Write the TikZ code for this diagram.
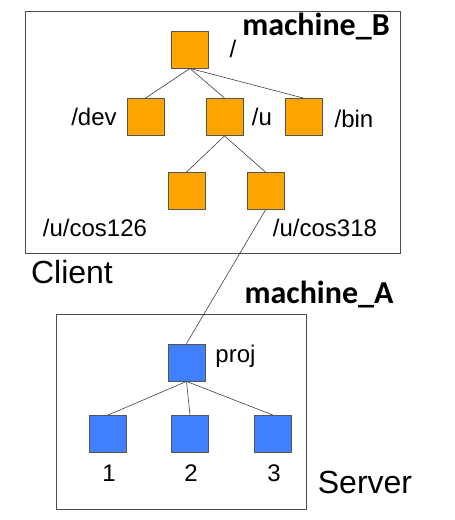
\documentclass[tikz,border=0pt]{standalone}
\usepackage{fontspec}
\setmainfont{Liberation Sans}
\newfontfamily\calib{Carlito}
\definecolor{orfill}{HTML}{FFA500}
\definecolor{blfill}{HTML}{4080FF}
\definecolor{edge}{HTML}{555555}
\begin{document}
\begin{tikzpicture}[x=1pt,y=-1pt,
  obox/.style={draw=edge,line width=0.8pt,fill=orfill,minimum size=37pt,inner sep=0pt},
  bbox/.style={draw=edge,line width=0.8pt,fill=blfill,minimum size=37pt,inner sep=0pt},
  lnk/.style={draw=black!75,line width=0.6pt},
  frame/.style={draw=black!70,line width=0.8pt},
  lbl/.style={inner sep=0pt,font=\fontsize{24}{28}\selectfont},
  big/.style={inner sep=0pt,font=\fontsize{32}{36}\selectfont},
  mach/.style={inner sep=0pt,font=\calib\bfseries\fontsize{32}{36}\selectfont}]
\useasboundingbox (0,0) rectangle (455,520);
% frames
\draw[frame] (25,11) rectangle (400,253);
\draw[frame] (56,314) rectangle (306,509);
% client tree
\node[obox] (root) at (190,49.5) {};
\node[obox] (dev) at (145.5,117) {};
\node[obox] (u) at (224.5,117) {};
\node[obox] (bin) at (303.5,117) {};
\node[obox] (c126) at (186.5,191) {};
\node[obox] (c318) at (265.5,191) {};
% server tree
\node[bbox] (proj) at (186.5,362.5) {};
\node[bbox] (s1) at (108,434) {};
\node[bbox] (s2) at (190,434) {};
\node[bbox] (s3) at (273,434) {};
% links
\draw[lnk] (root.south) -- (dev.north);
\draw[lnk] (root.south) -- (u.north);
\draw[lnk] (root.south) -- (bin.north);
\draw[lnk] (u.south) -- (c126.north);
\draw[lnk] (u.south) -- (c318.north);
\draw[lnk] (c318.south) -- (proj.north);
\draw[lnk] (proj.south) -- (s1.north);
\draw[lnk] (proj.south) -- (s2.north);
\draw[lnk] (proj.south) -- (s3.north);
% labels
\node[lbl] (lroot) at (233,49) {/};
\node[lbl] (ldev) at (94,117) {/dev};
\node[lbl] (lu) at (262,117) {/u};
\node[lbl] (lbin) at (354,119) {/bin};
\node[lbl] (l126) at (95,228) {/u/cos126};
\node[lbl] (l318) at (325,228) {/u/cos318};
\node[lbl] (lproj) at (235.5,356) {proj};
\node[lbl] (l1) at (109,473) {1};
\node[lbl] (l2) at (191,473) {2};
\node[lbl] (l3) at (274,473) {3};
\node[big] (client) at (72,272) {Client};
\node[big] (server) at (365,482) {Server};
\node[mach] (mB) at (316,27) {machine\_B};
\node[mach] (mA) at (319,295) {machine\_A};
\end{tikzpicture}
\end{document}
